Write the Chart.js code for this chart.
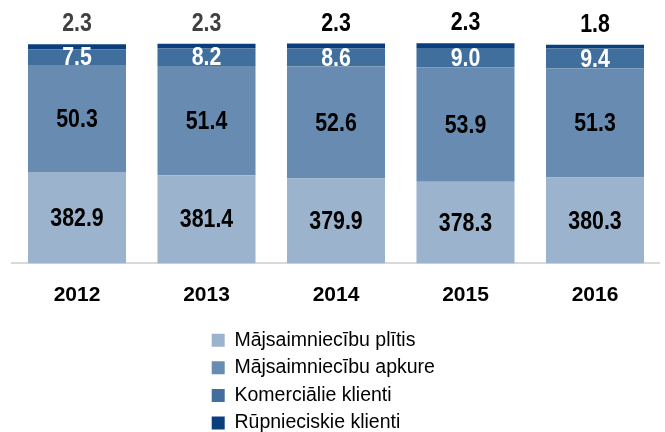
<!DOCTYPE html>
<html><head><meta charset="utf-8">
<script src="https://cdn.jsdelivr.net/npm/chart.js@4.4.1/dist/chart.umd.min.js"></script>
<style>html,body{margin:0;padding:0;background:#fff;} canvas{display:block}</style>
</head><body>
<canvas id="c" width="665" height="432"></canvas>
<script>
const years = ['2012', '2013', '2014', '2015', '2016'];
const plitis = [382.9, 381.4, 379.9, 378.3, 380.3];
const apkure = [50.3, 51.4, 52.6, 53.9, 51.3];
const komercialie = [7.5, 8.2, 8.6, 9.0, 9.4];
const rupnieciskie = [2.3, 2.3, 2.3, 2.3, 1.8];
const seriesNames = ['Mājsaimniecību plītis', 'Mājsaimniecību apkure', 'Komerciālie klienti', 'Rūpnieciskie klienti'];
const yMin = 340, yMax = 450;

const REG = "'Liberation Sans', Arial, sans-serif";
const NARROW_SCALE = 0.82;

const colors = ['#9BB3CC', '#688BB2', '#406F9E', '#0A3E7C'];
const labelStyles = [
  { pos: 'inside', color: '#000000' },
  { pos: 'inside', color: '#000000' },
  { pos: 'inside', color: '#FFFFFF' },
  { pos: 'above', colors: ['#404040', '#404040', '#000000', '#000000', '#000000'] }
];

const segLabels = {
  id: 'segLabels',
  afterDatasetsDraw(chart) {
    const ctx = chart.ctx, area = chart.chartArea;
    chart.data.datasets.forEach((ds, di) => {
      const meta = chart.getDatasetMeta(di);
      const st = labelStyles[di];
      meta.data.forEach((bar, i) => {
        const p = bar.getProps(['x', 'y', 'base'], true);
        const top = Math.max(Math.min(p.y, p.base), area.top);
        const bot = Math.min(Math.max(p.y, p.base), area.bottom);
        const txt = ds.data[i].toFixed(1);
        let ty, col;
        if (st.pos === 'above') { col = st.colors[i]; ty = top - 20; }
        else { col = st.color; ty = (top + bot) / 2 + 1; }
        ctx.save();
        ctx.translate(p.x, ty);
        ctx.scale(NARROW_SCALE, 1);
        ctx.font = 'bold 26px ' + REG;
        ctx.textAlign = 'center';
        ctx.textBaseline = 'middle';
        ctx.fillStyle = col;
        ctx.fillText(txt, 0, 0);
        ctx.restore();
      });
    });
  }
};

const legendColumn = {
  id: 'legendColumn',
  afterLayout(chart) {
    const lg = chart.legend;
    if (!lg) return;
    lg.left = 203.6; lg.right = 450; lg.top = 322.4; lg.bottom = 432;
    lg.width = lg.right - lg.left; lg.height = lg.bottom - lg.top;
  }
};

new Chart(document.getElementById('c'), {
  type: 'bar',
  data: {
    labels: years,
    datasets: [
      { label: seriesNames[0], data: plitis, backgroundColor: colors[0] },
      { label: seriesNames[1], data: apkure, backgroundColor: colors[1] },
      { label: seriesNames[2], data: komercialie, backgroundColor: colors[2] },
      { label: seriesNames[3], data: rupnieciskie, backgroundColor: colors[3] }
    ]
  },
  options: {
    responsive: false,
    animation: false,
    devicePixelRatio: 1,
    layout: { padding: { left: 12.25, right: 5.25, top: 29.4, bottom: 104.6 } },
    datasets: { bar: { categoryPercentage: 1.0, barPercentage: 0.757, borderWidth: 0 } },
    plugins: {
      tooltip: { enabled: false },
      legend: {
        position: 'bottom',
        align: 'start',
        maxHeight: 1,
        labels: {
          boxWidth: 13, boxHeight: 13, padding: 8.1, color: '#000000',
          font: { family: REG, size: 19.5 }
        }
      }
    },
    scales: {
      x: {
        stacked: true,
        grid: { display: false, drawTicks: false },
        border: { display: true, color: '#D9D9D9', width: 2 },
        ticks: { color: '#000000', padding: 19, font: { family: REG, size: 21, weight: 'bold' } }
      },
      y: { stacked: true, display: false, min: yMin, max: yMax }
    }
  },
  plugins: [segLabels, legendColumn]
});
</script>
</body></html>
